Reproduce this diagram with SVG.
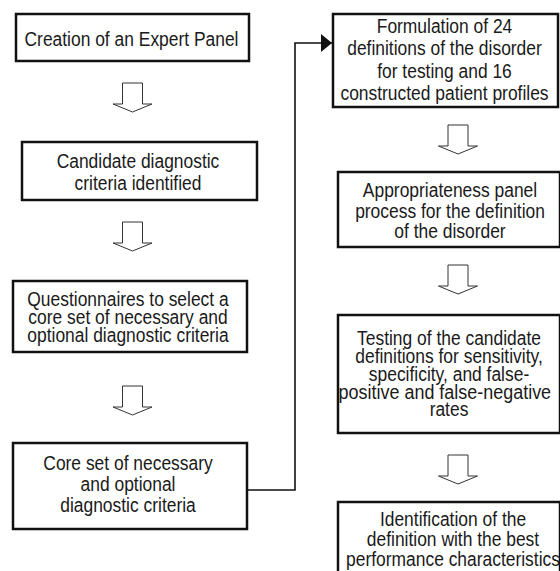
<svg xmlns="http://www.w3.org/2000/svg" width="560" height="571" viewBox="0 0 560 571">
<style>
.box{fill:#fff;stroke:#111;stroke-width:2.5}
.t{font-family:"Liberation Sans",Arial,sans-serif;font-size:21px;fill:#1a1a1a;text-anchor:middle}
.ha{fill:#fff;stroke:#333;stroke-width:1}
.conn{fill:none;stroke:#111;stroke-width:1.6}
</style>
<defs>
<path id="hollow" d="M-10,0 V21 H-19.5 L0,29 L19.5,21 H10 V0 Z"/>
<marker id="ah" viewBox="0 0 10 10" refX="10" refY="5" markerWidth="11" markerHeight="18" markerUnits="userSpaceOnUse" orient="auto" preserveAspectRatio="none">
<path d="M0,0 L10,5 L0,10 Z" fill="#111"/>
</marker>
</defs>
<rect width="560" height="571" fill="#fff"/>
<g id="connectors">
<path class="conn" d="M247,490 H295 V43 H332" marker-end="url(#ah)"/>
<use href="#hollow" class="ha" x="132.5" y="83"/>
<use href="#hollow" class="ha" x="132.5" y="222"/>
<use href="#hollow" class="ha" x="132.5" y="386"/>
<use href="#hollow" class="ha" x="458" y="125"/>
<use href="#hollow" class="ha" x="458" y="265"/>
<use href="#hollow" class="ha" x="458" y="455"/>
</g>
<g id="n1">
<rect class="box" x="16" y="14" width="233" height="47"/>
<g transform="translate(131.5 0) scale(0.83 1)">
<text class="t" x="0" y="46">Creation of an Expert Panel</text>
</g>
</g>
<g id="n2">
<rect class="box" x="22" y="142" width="235" height="58"/>
<g transform="translate(138 0) scale(0.83 1)">
<text class="t" x="0" y="168">Candidate diagnostic</text>
<text class="t" x="0" y="190">criteria identified</text>
</g>
</g>
<g id="n3">
<rect class="box" x="13" y="281" width="234" height="71"/>
<g transform="translate(128 0) scale(0.83 1)">
<text class="t" x="0" y="306">Questionnaires to select a</text>
<text class="t" x="0" y="324">core set of necessary and</text>
<text class="t" x="0" y="342">optional diagnostic criteria</text>
</g>
</g>
<g id="n4">
<rect class="box" x="13" y="443" width="234" height="86"/>
<g transform="translate(128 0) scale(0.83 1)">
<text class="t" x="0" y="470">Core set of necessary</text>
<text class="t" x="0" y="491">and optional</text>
<text class="t" x="0" y="512">diagnostic criteria</text>
</g>
</g>
<g id="n5">
<rect class="box" x="333" y="14" width="225" height="93"/>
<g transform="translate(444.5 0) scale(0.83 1)">
<text class="t" x="0" y="33">Formulation of 24</text>
<text class="t" x="0" y="55">definitions of the disorder</text>
<text class="t" x="0" y="78">for testing and 16</text>
<text class="t" x="0" y="100">constructed patient profiles</text>
</g>
</g>
<g id="n6">
<rect class="box" x="338" y="172" width="222" height="75"/>
<g transform="translate(450 0) scale(0.83 1)">
<text class="t" x="0" y="197">Appropriateness panel</text>
<text class="t" x="0" y="218">process for the definition</text>
<text class="t" x="0" y="238">of the disorder</text>
</g>
</g>
<g id="n7">
<rect class="box" x="338" y="315" width="222" height="118"/>
<g transform="translate(449 0) scale(0.83 1)">
<text class="t" x="0" y="345">Testing of the candidate</text>
<text class="t" x="0" y="363">definitions for sensitivity,</text>
<text class="t" x="0" y="381">specificity, and false-</text>
<text class="t" x="-5" y="399" textLength="256" lengthAdjust="spacingAndGlyphs">positive and false-negative</text>
<text class="t" x="0" y="416">rates</text>
</g>
</g>
<g id="n8">
<rect class="box" x="338" y="502" width="222" height="80"/>
<g transform="translate(453 0) scale(0.83 1)">
<text class="t" x="0" y="526">Identification of the</text>
<text class="t" x="0" y="546">definition with the best</text>
<text class="t" x="0" y="566">performance characteristics</text>
</g>
</g>
</svg>
